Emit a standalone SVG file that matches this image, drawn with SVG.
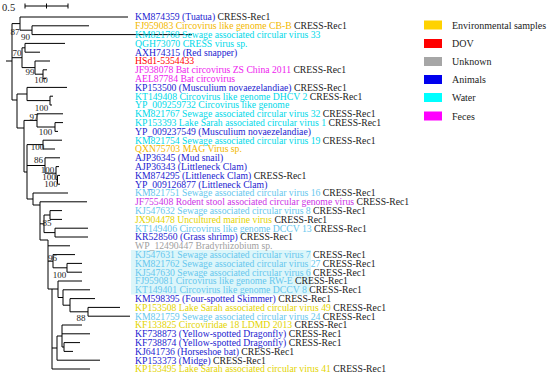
<svg xmlns="http://www.w3.org/2000/svg" width="550" height="376" viewBox="0 0 550 376">
<style>
text{font-family:"Liberation Serif","Times New Roman",serif;}
.lbl{font-size:9.7px;}
.bs{font-size:9px;fill:#222;text-anchor:middle;}
.leg{font-size:10px;fill:#222;}
.br{fill:none;stroke:#000;stroke-width:1;}
.cr{fill:#222;}
.an{fill:#1c1cd0;}
.wa{fill:#00d9e9;}
.wl{fill:#66c7ee;}
.go{fill:#f2b800;}
.ye{fill:#e3d400;}
.dv{fill:#ff0000;}
.un{fill:#a0a0a0;}
.fe{fill:#ee22ee;}
.fp{fill:#cc33e6;}
</style>
<rect width="550" height="376" fill="#fff"/>
<rect x="131" y="250" width="180" height="44.5" fill="#dcf6fa"/>

<g id="scale">
<path class="br" d="M25 6H68M25 3.5V8.5M46.5 3.5V8.5M68 3.5V8.5"/>
<text x="2" y="10.5" font-size="10.5" fill="#222">0.5</text>
</g>

<g id="connectors" class="br">
<path class="br" d="M6 61H12M12 23.6V100
M12 23.6H20M20 17V30.2M20 17H128M20 30.2H32M32 25.8V34.6M32 25.8H89M32 34.6H192
M12 57.7H22M22 47.8V67.6M22 47.8H25M25 43.4V52.2M25 43.4H65M25 52.2H40M22 67.6H35M35 61V74.2M35 61H50M35 74.2H43M43 69.8V78.6M43 69.8H47M43 78.6H46
M12 100H17M17 94V128
M17 94H27M27 87.4V100.6M27 87.4H67M27 100.6H50M50 96.2V105M50 96.2H53M50 105H52
M17 128H24M24 120.4V172
M24 120.4H37M37 113.8V127M37 113.8H63M37 127H55M55 122.6V131.4M55 122.6H63M55 131.4H58
M24 172H27M27 144.6V199
M27 144.6H43M43 140.2V149M43 140.2H62M43 149H55
M27 165.5H45M45 157.8V173.2M45 157.8H60M45 173.2H56M56 166.6V179.8M56 166.6H59M56 179.8H57.5M57.5 175.4V184.2M57.5 175.4H60M57.5 184.2H60
M27 199H33M33 193V205M33 193H68M33 205H40
M40 201.8V240M40 201.8H87M40 223.8H44M40 240H48
M44 215V232.6M44 215H50M50 210.6V219.4M50 210.6H62M50 219.4H62M44 232.6H55M55 228.2V237M55 228.2H88M55 237H88
M48 240V289M48 245.8H70
M48 261.2H53M53 254.6V267.8M53 254.6H75M53 267.8H67M67 263.4V272.2M67 263.4H82M67 272.2H82
M48 289H52M52 289V369
M52 289H58M58 281V297.5M58 281H82M58 297.5H63
M63 289.8V305.2M63 289.8H90M63 305.2H70
M70 298.6V311.8M70 298.6H95M70 311.8H88
M88 307.4V316.2M88 307.4H120M88 316.2H130
M52 348H57M57 336V360.2M57 336H62M57 360.2H100
M62 325V347M62 325H82M62 333.8H90M62 347H64M64 342.6V351.4M64 342.6H80M64 351.4H73
M52 369H90"/>
</g>

<g id="bootstrap">
<text class="bs" x="15" y="35">87</text>
<text class="bs" x="25.5" y="40">90</text>
<text class="bs" x="17" y="56">70</text>
<text class="bs" x="30" y="75">99</text>
<text class="bs" x="41" y="83">100</text>
<text class="bs" x="41.5" y="111">100</text>
<text class="bs" x="34" y="120">97</text>
<text class="bs" x="45.5" y="135">100</text>
<text class="bs" x="37.5" y="150">100</text>
<text class="bs" x="38.5" y="163">86</text>
<text class="bs" x="47.5" y="173">100</text>
<text class="bs" x="49" y="180">100</text>
<text class="bs" x="51" y="187">100</text>
<text class="bs" x="47" y="226">85</text>
<text class="bs" x="52.5" y="261">96</text>
<text class="bs" x="59.5" y="278">100</text>
<text class="bs" x="81" y="321">88</text>
</g>

<g id="leaves" class="lbl">
<g id="n1"><text x="135" y="20.3"><tspan class="an">KM874359 (Tuatua)</tspan><tspan class="cr"> CRESS-Rec1</tspan></text></g>
<g id="n2"><text x="135" y="29.1"><tspan class="go">FJ959083 Circovirus like genome CB-B</tspan><tspan class="cr"> CRESS-Rec1</tspan></text></g>
<g id="n3"><text x="135" y="37.9" class="wa">KM821768 Sewage associated circular virus 33</text></g>
<g id="n4"><text x="135" y="46.7" class="wa">QGH73070 CRESS virus sp.</text></g>
<g id="n5"><text x="135" y="55.5" class="an">AXH74315 (Red snapper)</text></g>
<g id="n6"><text x="135" y="64.3" class="dv">HSd1-5354433</text></g>
<g id="n7"><text x="135" y="73.1"><tspan class="fe">JF938078 Bat circovirus ZS China 2011</tspan><tspan class="cr"> CRESS-Rec1</tspan></text></g>
<g id="n8"><text x="135" y="81.9" class="fe">AEL87784 Bat circovirus</text></g>
<g id="n9"><text x="135" y="90.7"><tspan class="an">KP153500 (Musculium novaezelandiae)</tspan><tspan class="cr"> CRESS-Rec1</tspan></text></g>
<g id="n10"><text x="135" y="99.5"><tspan class="wa">KT149408 Circovirus like genome DHCV 2</tspan><tspan class="cr"> CRESS-Rec1</tspan></text></g>
<g id="n11"><text x="135" y="108.3" class="wa">YP_009259732 Circovirus like genome</text></g>
<g id="n12"><text x="135" y="117.1"><tspan class="wa">KM821767 Sewage associated circular virus 32</tspan><tspan class="cr"> CRESS-Rec1</tspan></text></g>
<g id="n13"><text x="135" y="125.9"><tspan class="wa">KP153393 Lake Sarah associated circular virus 1</tspan><tspan class="cr"> CRESS-Rec1</tspan></text></g>
<g id="n14"><text x="135" y="134.7" class="an">YP_009237549 (Musculium novaezelandiae)</text></g>
<g id="n15"><text x="135" y="143.5"><tspan class="wa">KM821754 Sewage associated circular virus 19</tspan><tspan class="cr"> CRESS-Rec1</tspan></text></g>
<g id="n16"><text x="135" y="152.3" class="go">QXN75703 MAG Virus sp.</text></g>
<g id="n17"><text x="135" y="161.1" class="an">AJP36345 (Mud snail)</text></g>
<g id="n18"><text x="135" y="169.9" class="an">AJP36343 (Littleneck Clam)</text></g>
<g id="n19"><text x="135" y="178.7"><tspan class="an">KM874295 (Littleneck Clam)</tspan><tspan class="cr"> CRESS-Rec1</tspan></text></g>
<g id="n20"><text x="135" y="187.5" class="an">YP_009126877 (Littleneck Clam)</text></g>
<g id="n21"><text x="135" y="196.3"><tspan class="wl">KM821751 Sewage associated circular virus 16</tspan><tspan class="cr"> CRESS-Rec1</tspan></text></g>
<g id="n22"><text x="135" y="205.1"><tspan class="fp">JF755408 Rodent stool associated circular genome virus</tspan><tspan class="cr"> CRESS-Rec1</tspan></text></g>
<g id="n23"><text x="135" y="213.9"><tspan class="wl">KJ547632 Sewage associated circular virus 8</tspan><tspan class="cr"> CRESS-Rec1</tspan></text></g>
<g id="n24"><text x="135" y="222.7"><tspan class="ye">JX904478 Uncultured marine virus</tspan><tspan class="cr"> CRESS-Rec1</tspan></text></g>
<g id="n25"><text x="135" y="231.5"><tspan class="wl">KT149406 Circovirus like genome DCCV 13</tspan><tspan class="cr"> CRESS-Rec1</tspan></text></g>
<g id="n26"><text x="135" y="240.3"><tspan class="an" fill="#1414b8">KR528560 (Grass shrimp)</tspan><tspan class="cr"> CRESS-Rec1</tspan></text></g>
<g id="n27"><text x="135" y="249.1" class="un">WP_12490447 Bradyrhizobium sp.</text></g>
<g id="n28"><text x="135" y="257.9"><tspan class="wl">KJ547631 Sewage associated circular virus 7</tspan><tspan class="cr"> CRESS-Rec1</tspan></text></g>
<g id="n29"><text x="135" y="266.7"><tspan class="wl">KM821762 Sewage associated circular virus 27</tspan><tspan class="cr"> CRESS-Rec1</tspan></text></g>
<g id="n30"><text x="135" y="275.5"><tspan class="wl">KJ547630 Sewage associated circular virus 6</tspan><tspan class="cr"> CRESS-Rec1</tspan></text></g>
<g id="n31"><text x="135" y="284.3"><tspan class="wl">FJ959081 Circovirus like genome RW-E</tspan><tspan class="cr"> CRESS-Rec1</tspan></text></g>
<g id="n32"><text x="135" y="293.1"><tspan class="wl">KT149401 Circovirus like genome DCCV 8</tspan><tspan class="cr"> CRESS-Rec1</tspan></text></g>
<g id="n33"><text x="135" y="301.9"><tspan class="an">KM598395 (Four-spotted Skimmer)</tspan><tspan class="cr"> CRESS-Rec1</tspan></text></g>
<g id="n34"><text x="135" y="310.7"><tspan class="ye">KP153508 Lake Sarah associated circular virus 49</tspan><tspan class="cr"> CRESS-Rec1</tspan></text></g>
<g id="n35"><text x="135" y="319.5"><tspan class="wl">KM821759 Sewage associated circular virus 24</tspan><tspan class="cr"> CRESS-Rec1</tspan></text></g>
<g id="n36"><text x="135" y="328.3"><tspan class="ye">KF133825 Circoviridae 18 LDMD 2013</tspan><tspan class="cr"> CRESS-Rec1</tspan></text></g>
<g id="n37"><text x="135" y="337.1"><tspan class="an">KF738873 (Yellow-spotted Dragonfly)</tspan><tspan class="cr"> CRESS-Rec1</tspan></text></g>
<g id="n38"><text x="135" y="345.9"><tspan class="an">KF738874 (Yellow-spotted Dragonfly)</tspan><tspan class="cr"> CRESS-Rec1</tspan></text></g>
<g id="n39"><text x="135" y="354.7"><tspan class="an">KJ641736 (Horseshoe bat)</tspan><tspan class="cr"> CRESS-Rec1</tspan></text></g>
<g id="n40"><text x="135" y="363.5"><tspan class="an" fill="#3535c8">KP153373 (Midge)</tspan><tspan class="cr"> CRESS-Rec1</tspan></text></g>
<g id="n41"><text x="135" y="372.3"><tspan class="ye">KP153495 Lake Sarah associated circular virus 41</tspan><tspan class="cr"> CRESS-Rec1</tspan></text></g>
</g>

<g id="legend">
<g id="leg-env"><rect x="424" y="20.5" width="18" height="9" fill="#ffd200"/><text class="leg" x="452" y="28.5">Environmental samples</text></g>
<g id="leg-dov"><rect x="424" y="39" width="18" height="9" fill="#ff0000"/><text class="leg" x="452" y="47">DOV</text></g>
<g id="leg-unk"><rect x="424" y="57" width="18" height="9" fill="#a6a6a6"/><text class="leg" x="452" y="65">Unknown</text></g>
<g id="leg-ani"><rect x="424" y="75" width="18" height="9" fill="#0000ee"/><text class="leg" x="452" y="83">Animals</text></g>
<g id="leg-wat"><rect x="424" y="93" width="18" height="9" fill="#00ffff"/><text class="leg" x="452" y="101">Water</text></g>
<g id="leg-fec"><rect x="424" y="111.5" width="18" height="9" fill="#ff00ff"/><text class="leg" x="452" y="119.5">Feces</text></g>
</g>
</svg>
